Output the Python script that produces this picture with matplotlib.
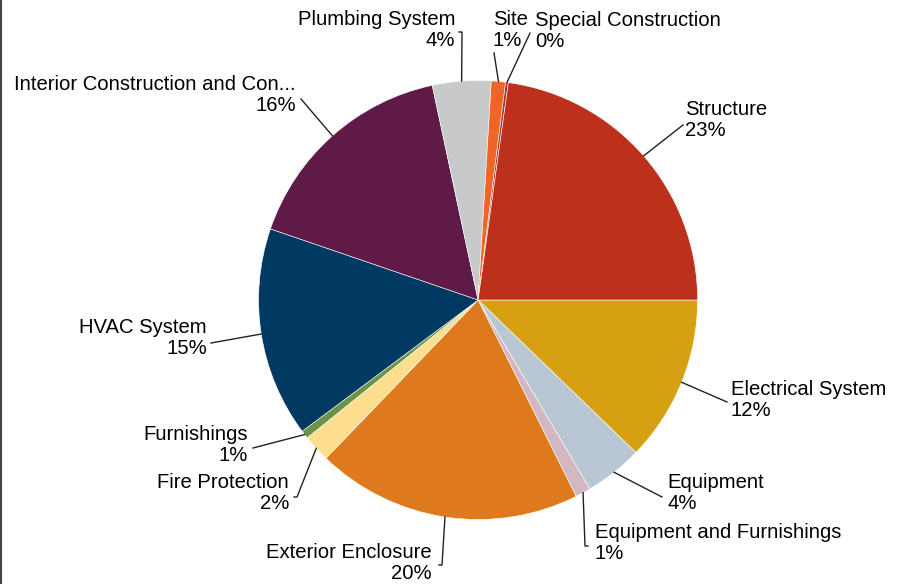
"""cost breakdown pie with outside leader labels"""
import numpy as np
import matplotlib
matplotlib.use('Agg')
import matplotlib.pyplot as plt
from matplotlib.lines import Line2D

W, H = 909, 584  # canvas in pixels, layout below is given in pixels from top-left

categories = ['Electrical System', 'Equipment', 'Equipment and Furnishings',
              'Exterior Enclosure', 'Fire Protection', 'Furnishings', 'HVAC System',
              'Interior Construction and Conveying', 'Plumbing System', 'Site',
              'Special Construction', 'Structure']
shares = [12.23, 4.27, 1.13, 19.56, 2.01, 0.6, 15.45, 16.4, 4.31, 1.04, 0.2, 22.8]
colors = ['#D6A012', '#B9C7D5', '#D4B8C1', '#DE791E', '#FDDE8E', '#6A9346',
          '#003A63', '#5F1A48', '#C8C9CB', '#EF6427', '#9E3A2A', '#BD301B']

MAX_CHARS = 29
FONT = {'family': ['Liberation Sans', 'DejaVu Sans'], 'size': 14.6}
LINE_CLR = '#222222'

# label layout: leader end (x, y), hook dx, text anchor (x, y), alignment
LAYOUT = {
    'Electrical System': ((727, 402), 0, (731, 400), 'left'),
    'Equipment': ((662, 497), 0, (667, 493), 'left'),
    'Equipment and Furnishings': ((585, 546), 3, (595, 543), 'left'),
    'Exterior Enclosure': ((442, 565), -3, (432, 563), 'right'),
    'Fire Protection': ((297, 497), -3, (289, 493), 'right'),
    'Furnishings': ((253, 448), 0, (248, 445), 'right'),
    'HVAC System': ((211, 343), 0, (207, 338), 'right'),
    'Interior Construction and Conveying': ((301, 99), 0, (296, 95), 'right'),
    'Plumbing System': ((462, 32), -3, (455, 30), 'right'),
    'Site': ((494, 53), 0, (493, 30), 'left'),
    'Special Construction': ((530, 33), 0, (535, 31), 'left'),
    'Structure': ((683, 125), 0, (685, 120), 'left'),
}
CENTER = (478.1, 300.0)
RADIUS = 219.5


def _short(name: str) -> str:
    return name if len(name) <= MAX_CHARS else name[:MAX_CHARS] + '...'


def flip(y):
    return H - y


fig = plt.figure(figsize=(W / 100, H / 100), dpi=100)
ax = fig.add_axes([0, 0, 1, 1])
wedges, _ = ax.pie(shares, colors=colors, startangle=0, counterclock=False,
                   center=(CENTER[0], flip(CENTER[1])), radius=RADIUS,
                   wedgeprops={'edgecolor': 'white', 'linewidth': 0.4})
ax.set_xlim(0, W)
ax.set_ylim(0, H)
ax.set_aspect('equal')
ax.axis('off')

for wedge, name, value in zip(wedges, categories, shares):
    (ex, ey), hook, (tx, ty), ha = LAYOUT[name]
    mid = np.deg2rad((wedge.theta1 + wedge.theta2) / 2.0)
    sx = wedge.center[0] + wedge.r * np.cos(mid)
    sy = wedge.center[1] + wedge.r * np.sin(mid)
    xs = [sx, ex]
    ys = [sy, flip(ey)]
    if hook:
        xs.append(ex + hook)
        ys.append(flip(ey))
    ax.add_line(Line2D(xs, ys, color=LINE_CLR, linewidth=1.0))
    ax.text(tx, flip(ty), '%s\n%d%%' % (_short(name), round(value)),
            ha=ha, va='center', multialignment=ha, linespacing=1.17,
            color='black', **FONT)

fig.add_artist(Line2D([0.8 / W, 0.8 / W], [0, 1], transform=fig.transFigure,
                      color='#444444', linewidth=1.5))

fig.savefig('out.png', dpi=100, facecolor='white')
